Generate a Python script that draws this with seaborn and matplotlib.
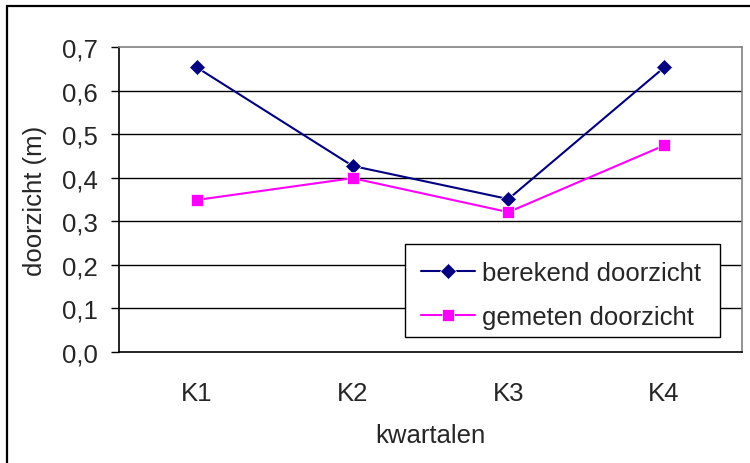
import matplotlib
matplotlib.use("Agg")
import matplotlib.pyplot as plt
from matplotlib.patches import Rectangle
from matplotlib.ticker import FuncFormatter, FixedLocator
import seaborn as sns
import pandas as pd

# Quarterly transparency (doorzicht) in metres
kwartalen = ["K1", "K2", "K3", "K4"]
berekend = [0.653, 0.427, 0.351, 0.653]
gemeten = [0.349, 0.399, 0.321, 0.474]
series_names = ["berekend doorzicht", "gemeten doorzicht"]
y_ticks = [0.0, 0.1, 0.2, 0.3, 0.4, 0.5, 0.6, 0.7]

df = pd.DataFrame({
    "kwartaal": kwartalen * 2,
    "pos": list(range(len(kwartalen))) * 2,
    "doorzicht": berekend + gemeten,
    "reeks": [series_names[0]] * len(kwartalen) + [series_names[1]] * len(kwartalen),
})

sns.set_style("white")
plt.rcParams["font.family"] = ["Liberation Sans", "DejaVu Sans"]
FS = 18.5
W, H = 750, 464

fig = plt.figure(figsize=(7.5, 4.64), dpi=100)
ax = fig.add_axes([119 / W, 1 - 353 / H, (742 - 119) / W, (353 - 48) / H])

sns.lineplot(
    data=df, x="pos", y="doorzicht", hue="reeks", style="reeks",
    palette={series_names[0]: "#000080", series_names[1]: "#FF00FF"},
    markers={series_names[0]: "D", series_names[1]: "s"},
    dashes=False, linewidth=1.5, ax=ax, legend=False,
    markeredgewidth=0.5,
)
# marker sizes per series
for line, ms in zip(ax.lines, [8, 8.5]):
    line.set_markersize(ms)

ax.set_xlim(-0.5, len(kwartalen) - 0.5)
ax.set_ylim(0, 0.7)

# category labels centred, tick marks on the boundaries
ax.xaxis.set_major_locator(FixedLocator(list(range(len(kwartalen)))))
ax.set_xticklabels(kwartalen, fontsize=FS)
ax.xaxis.set_minor_locator(FixedLocator([i - 0.5 for i in range(len(kwartalen) + 1)]))
ax.tick_params(axis="x", which="major", length=0, pad=21)
ax.tick_params(axis="x", which="minor", length=6, width=1, color="black", direction="out")

ax.set_yticks(y_ticks)
ax.yaxis.set_major_formatter(FuncFormatter(lambda v, p: f"{v:.1f}".replace(".", ",")))
ax.tick_params(axis="y", which="major", length=6, width=1, color="black",
               direction="out", labelsize=FS, pad=9, left=True)

ax.grid(False)
for yv in y_ticks[1:-1]:
    ax.axhline(yv, color="black", linewidth=1, zorder=0)

ax.spines["left"].set_color("black")
ax.spines["bottom"].set_color("black")
ax.spines["top"].set_color("#808080")
ax.spines["right"].set_color("#808080")
for s in ax.spines.values():
    s.set_linewidth(1.2)

ax.set_xlabel("kwartalen", fontsize=FS, labelpad=13)
ax.set_ylabel("doorzicht (m)", fontsize=FS, labelpad=11)

# legend box: white panel with a thin black border, entries centred inside
fig.patches.append(Rectangle((405 / W, 1 - 338 / H), (720 - 405) / W, (338 - 245) / H,
                             transform=fig.transFigure, facecolor="white",
                             edgecolor="black", linewidth=1.0, zorder=4))
handles = ax.lines[:2]
leg = fig.legend(
    handles, series_names, loc="center",
    bbox_to_anchor=(561 / W, 1 - 296 / H),
    fontsize=FS, frameon=False, handlelength=2.1, handletextpad=0.25,
    labelspacing=0.8, borderpad=0, borderaxespad=0,
)
leg.set_zorder(5)

# outer chart border
fig.patches.append(Rectangle((7 / W, -0.1), 1.2, 1 - 7 / H + 0.1,
                             transform=fig.transFigure, fill=False,
                             edgecolor="black", linewidth=1.6))

fig.savefig("out.png", dpi=100)
